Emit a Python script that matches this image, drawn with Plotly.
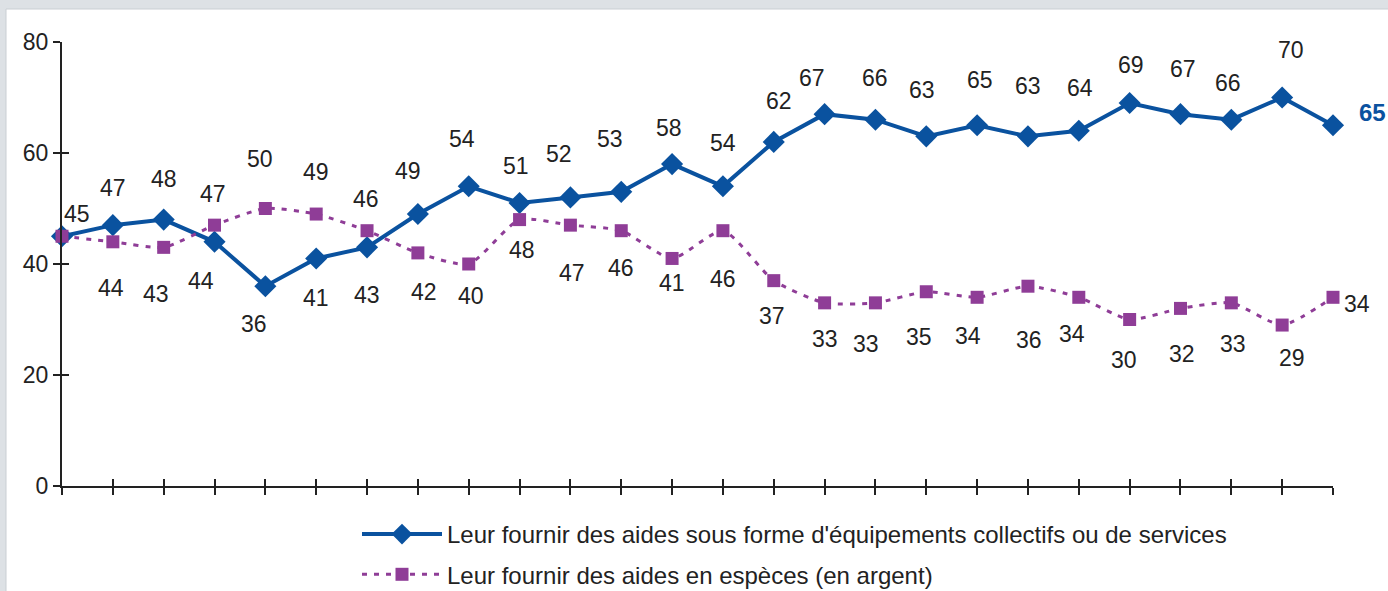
import plotly.graph_objects as go

# ---- data ----
blue_name = "Leur fournir des aides sous forme d'équipements collectifs ou de services"
purple_name = "Leur fournir des aides en espèces (en argent)"
x_idx = list(range(26))
blue_vals = [45, 47, 48, 44, 36, 41, 43, 49, 54, 51, 52, 53, 58, 54, 62, 67, 66, 63, 65, 63, 64, 69, 67, 66, 70, 65]
purple_vals = [45, 44, 43, 47, 50, 49, 46, 42, 40, 48, 47, 46, 41, 46, 37, 33, 33, 35, 34, 36, 34, 30, 32, 33, 29, 34]
y_ticks = [0, 20, 40, 60, 80]

# label offsets in pixels (dx, dy down-positive)
blue_off = [(15, -22), (0, -37), (0, -41), (-14, 39), (-11, 38), (0, 40), (0, 48), (-10, -43),
            (-7, -47), (-4, -37), (-11, -43), (-11, -53), (-3, -36), (0, -43), (5, -41), (-13, -36),
            (0, -42), (-4, -46), (3, -45), (0, -50), (1, -43), (1, -38), (3, -45), (-3, -37),
            (9, -48), (39, -13)]
purple_off = [None, (-2, 46), (-8, 47), (-2, -31), (-5, -50), (0, -42), (-1, -32), (6, 39),
              (2, 32), (2, 30), (2, 48), (0, 37), (0, 25), (0, 48), (-2, 35), (0, 36),
              (-9, 41), (-7, 45), (-9, 39), (1, 54), (-7, 37), (-6, 40), (2, 46), (2, 41),
              (10, 33), (24, 7)]

BLUE = "#0a529f"
PURPLE = "#8f3d97"
TXT = "#222222"
FONT = "Liberation Sans, Arial, sans-serif"
NUM_SIZE = 23

W, H = 1388, 591
L, R, T, B = 62, 55, 42, 105
pw = W - L - R
ph = H - T - B

fig = go.Figure()
fig.add_trace(go.Scatter(
    x=x_idx, y=blue_vals, name=blue_name, mode="lines+markers",
    line=dict(color=BLUE, width=4),
    marker=dict(symbol="diamond", size=17, color=BLUE),
    cliponaxis=False, legendgroup="a"))
fig.add_trace(go.Scatter(
    x=x_idx, y=purple_vals, name=purple_name, mode="lines+markers",
    line=dict(color=PURPLE, width=3, dash="5px,7px", shape="spline", smoothing=0.6),
    marker=dict(symbol="square", size=13, color=PURPLE),
    cliponaxis=False, legendgroup="b"))
# helper trace (transparent) so the overlay axes carrying the inner tick halves are drawn
fig.add_trace(go.Scatter(x=x_idx[:1], y=y_ticks[:1], xaxis="x2", yaxis="y2", mode="markers",
                         marker=dict(opacity=0), showlegend=False, hoverinfo="skip"))

ann = []
for i, v in enumerate(blue_vals):
    dx, dy = blue_off[i]
    last = i == len(blue_vals) - 1
    ann.append(dict(x=x_idx[i], y=v, text=f"<b>{v}</b>" if last else str(v), showarrow=False,
                    xshift=dx, yshift=-dy,
                    font=dict(family=FONT, size=24 if last else NUM_SIZE,
                              color=BLUE if last else TXT)))
for i, v in enumerate(purple_vals):
    if purple_off[i] is None:
        continue
    dx, dy = purple_off[i]
    ann.append(dict(x=x_idx[i], y=v, text=str(v), showarrow=False, xshift=dx, yshift=-dy,
                    font=dict(family=FONT, size=NUM_SIZE, color=TXT)))

# frame: white panel over gray page
def px_x(p):
    return (p - L) / pw

def px_y(p):
    return (H - B - p) / ph

shapes = [dict(type="rect", xref="paper", yref="paper", layer="below",
               x0=px_x(6), x1=px_x(W + 5), y0=px_y(H + 5), y1=px_y(9),
               fillcolor="white", line=dict(color="#c9ced3", width=1))]

axis_common = dict(showgrid=False, zeroline=False)
fig.update_layout(
    width=W, height=H, autosize=False,
    margin=dict(l=L, r=R, t=T, b=B, autoexpand=False),
    paper_bgcolor="#dde1e5", plot_bgcolor="rgba(0,0,0,0)",
    font=dict(family=FONT, size=NUM_SIZE, color=TXT),
    xaxis=dict(range=[0, 25], tickvals=x_idx, showticklabels=False, ticks="outside",
               ticklen=7, tickwidth=2, tickcolor=TXT, showline=True, linecolor=TXT,
               linewidth=2, **axis_common),
    yaxis=dict(range=[0, 80], tickvals=y_ticks, ticks="outside", ticklen=7, tickwidth=2,
               tickcolor=TXT, showline=True, linecolor=TXT, linewidth=2,
               tickfont=dict(family=FONT, size=NUM_SIZE, color=TXT), **axis_common),
    xaxis2=dict(range=[0, 25], tickvals=x_idx, showticklabels=False, ticks="inside",
                ticklen=7, tickwidth=2, tickcolor=TXT, overlaying="x", anchor="y2",
                side="bottom", showline=False, **axis_common),
    yaxis2=dict(range=[0, 80], tickvals=y_ticks, showticklabels=False, ticks="inside",
                ticklen=7, tickwidth=2, tickcolor=TXT, overlaying="y", anchor="x2",
                side="left", showline=False, **axis_common),
    showlegend=True,
    legend=dict(x=px_x(357), y=px_y(512), xanchor="left", yanchor="top",
                bgcolor="rgba(0,0,0,0)", font=dict(family=FONT, size=24, color=TXT),
                tracegroupgap=6, itemwidth=80),
    annotations=ann,
    shapes=shapes,
)

fig.write_html(
    "out.html",
    config={"responsive": False, "displayModeBar": False},
    post_script=("document.documentElement.style.overflow='hidden';"
                 "document.body.style.margin='0';document.body.style.padding='0';"
                 "document.body.style.overflow='hidden';"),
)
